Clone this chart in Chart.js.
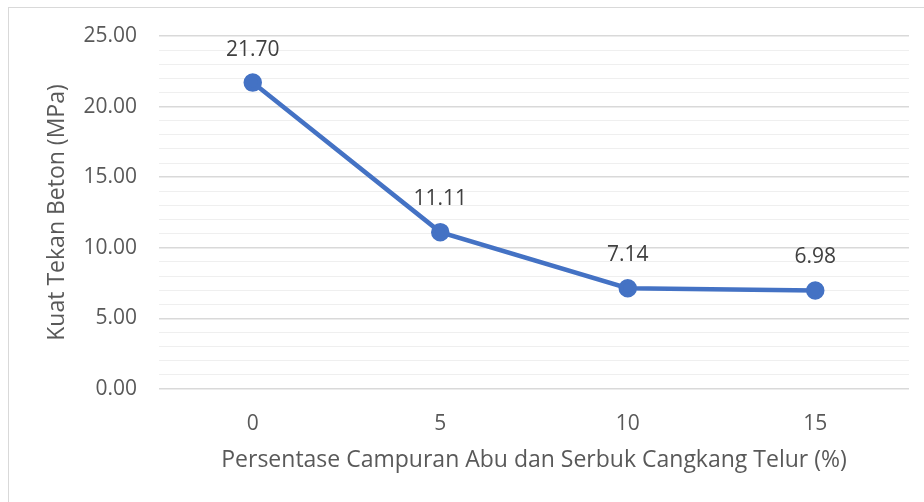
<!DOCTYPE html>
<html>
<head>
<meta charset="utf-8">
<script src="https://cdn.jsdelivr.net/npm/chart.js@4"></script>
<style>
  html, body { margin: 0; padding: 0; background: #fff; overflow: hidden; }
  #frame { position: absolute; left: 8px; top: 7px; width: 1000px; height: 600px;
           border-left: 1px solid #d9d9d9; border-top: 1px solid #d9d9d9; }
  #wrap { position: absolute; left: 0; top: 0; width: 924px; height: 502px; }
</style>
</head>
<body>
<div id="frame"></div>
<div id="wrap"><canvas id="chart" width="924" height="502"></canvas></div>
<script>
const percentages = ["0", "5", "10", "15"];
const strength = [21.70, 11.11, 7.14, 6.98];
const yTitle = "Kuat Tekan Beton (MPa)";
const xTitle = "Persentase Campuran Abu dan Serbuk Cangkang Telur (%)";

const fontFam = "'Open Sans', sans-serif";
const textColor = "#595959";

// labels above each point
const pointLabels = {
    id: "pointLabels",
    afterDatasetsDraw(chart) {
        const ctx = chart.ctx;
        const meta = chart.getDatasetMeta(0);
        ctx.save();
        ctx.font = "21px " + fontFam;
        ctx.fillStyle = "#404040";
        ctx.textAlign = "center";
        ctx.textBaseline = "middle";
        meta.data.forEach((pt, i) => {
            ctx.fillText(strength[i].toFixed(2), pt.x, pt.y - 33);
        });
        ctx.restore();
    }
};

new Chart(document.getElementById("chart"), {
    type: "line",
    data: {
        labels: percentages,
        datasets: [{
            data: strength,
            borderColor: "#4472c4",
            backgroundColor: "#4472c4",
            borderWidth: 4.5,
            pointRadius: 7,
            pointHoverRadius: 7,
            tension: 0
        }]
    },
    options: {
        responsive: false,
        animation: false,
        layout: { padding: { left: 44, top: 36, right: 15, bottom: 28 } },
        plugins: { legend: { display: false }, tooltip: { enabled: false } },
        scales: {
            x: {
                offset: true,
                afterFit(scale) { scale.height = 85; },
                grid: { display: false },
                border: { display: false },
                ticks: { color: textColor, font: { family: fontFam, size: 21 }, padding: 14 },
                title: {
                    display: true, text: xTitle, color: textColor,
                    font: { family: fontFam, size: 23 }, padding: 0
                }
            },
            y: {
                min: 0, max: 25,
                afterFit(scale) { scale.width = 115; },
                grid: {
                    drawTicks: false,
                    color: c => (c.tick.value % 5 === 0 ? "#d9d9d9" : "#efefef"),
                    lineWidth: c => (c.tick.value % 5 === 0 ? 1.5 : 1)
                },
                border: { display: false },
                ticks: {
                    stepSize: 1,
                    autoSkip: false,
                    padding: 22,
                    color: textColor,
                    font: { family: fontFam, size: 21 },
                    callback: v => (v % 5 === 0 ? v.toFixed(2) : "")
                },
                title: {
                    display: true, text: yTitle, color: textColor,
                    font: { family: fontFam, size: 23 }, padding: 0
                }
            }
        }
    },
    plugins: [pointLabels]
});
</script>
</body>
</html>
